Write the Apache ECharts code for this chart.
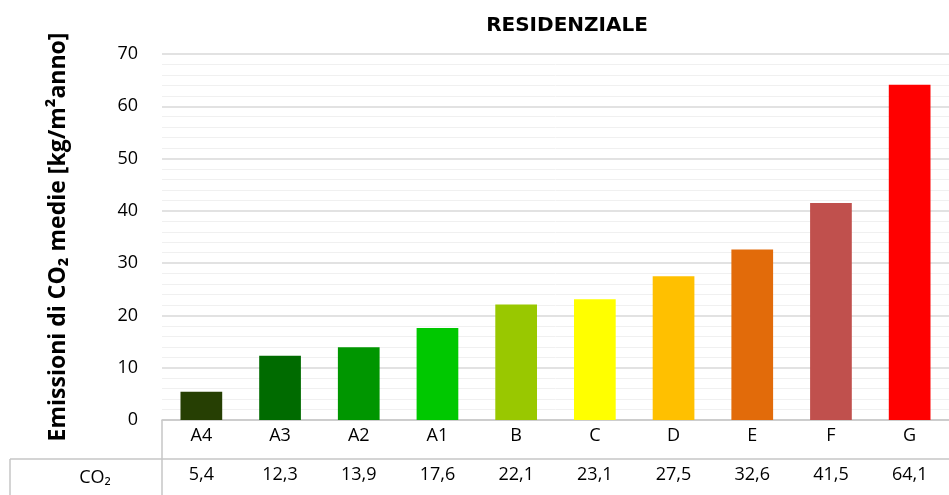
<!DOCTYPE html>
<html>
<head>
<meta charset="utf-8">
<title>Residenziale - emissioni CO2</title>
<script src="https://cdn.jsdelivr.net/npm/echarts@6/dist/echarts.min.js"></script>
<style>
    html, body { margin: 0; padding: 0; background: #fff; }
    #chart { width: 949px; height: 495px; }
</style>
</head>
<body>
<div id="chart"></div>
<script>
// classi energetiche e valori medi di CO2
const classi = ['A4', 'A3', 'A2', 'A1', 'B', 'C', 'D', 'E', 'F', 'G'];
const co2 = [5.4, 12.3, 13.9, 17.6, 22.1, 23.1, 27.5, 32.6, 41.5, 64.1];
const colori = ['#263f03', '#006b00', '#009600', '#00c800', '#99c800',
                '#ffff00', '#ffc000', '#e26b0a', '#c0504d', '#ff0000'];

const FONT = '"Open Sans", "Noto Sans", sans-serif';
const LINE = '#c6c6c6';

const chart = echarts.init(document.getElementById('chart'));

const option = {
    animation: false,
    title: {
        text: 'RESIDENZIALE',
        left: 562,
        textAlign: 'center',
        top: 11,
        textStyle: { fontFamily: '"DejaVu Sans", sans-serif', fontWeight: 'bold', fontSize: 20, color: '#000' }
    },
    grid: { left: 162, right: 0, top: 54, bottom: 75 },
    xAxis: [
        {
            type: 'category',
            data: classi,
            axisTick: { show: false },
            axisLine: { lineStyle: { color: LINE, width: 1.5 } },
            axisLabel: { color: '#000', fontSize: 18, fontFamily: FONT, margin: 7 }
        },
        {
            // riga della tabella dati sotto il grafico
            type: 'category',
            data: co2.map(v => v.toFixed(1).replace('.', ',')),
            position: 'bottom',
            offset: 39,
            axisTick: { show: false },
            axisLine: { show: false },
            axisLabel: { color: '#000', fontSize: 18, fontFamily: FONT, margin: 7 }
        }
    ],
    yAxis: {
        type: 'value',
        min: 0,
        max: 70,
        interval: 10,
        name: 'Emissioni di CO₂ medie [kg/m²anno]',
        nameLocation: 'middle',
        nameGap: 92,
        nameTextStyle: { fontFamily: FONT, fontWeight: 'bold', fontSize: 23, color: '#000' },
        axisLine: { show: false },
        axisTick: { show: false },
        axisLabel: { color: '#000', fontSize: 18, fontFamily: FONT, margin: 24 },
        splitLine: { lineStyle: { color: '#d9d9d9', width: 1.5 } },
        minorTick: { show: false, splitNumber: 5 },
        minorSplitLine: { show: true, lineStyle: { color: '#f0f0f0', width: 1 } }
    },
    series: [
        {
            type: 'bar',
            barWidth: '53%',
            data: co2.map((v, i) => ({ value: v, itemStyle: { color: colori[i] } }))
        }
    ],
    graphic: [
        { type: 'line', shape: { x1: 10, y1: 459, x2: 949, y2: 459 }, style: { stroke: LINE, lineWidth: 1.5 } },
        { type: 'line', shape: { x1: 162, y1: 420, x2: 162, y2: 495 }, style: { stroke: LINE, lineWidth: 1.5 } },
        { type: 'line', shape: { x1: 10, y1: 459, x2: 10, y2: 495 }, style: { stroke: LINE, lineWidth: 1.5 } },
        {
            type: 'text', x: 95, y: 478,
            style: { text: 'CO₂', fontFamily: FONT, fontSize: 18, fill: '#000', align: 'center', verticalAlign: 'middle' }
        }
    ]
};

chart.setOption(option);
</script>
</body>
</html>
